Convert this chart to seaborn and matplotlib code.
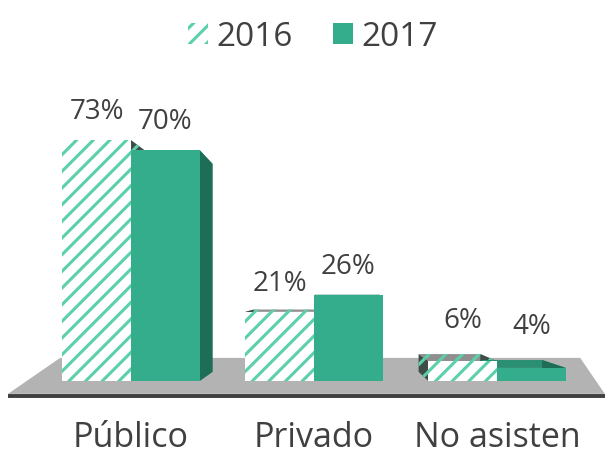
import pandas as pd
import seaborn as sns
import matplotlib
matplotlib.use("Agg")
import matplotlib.pyplot as plt
import matplotlib.patches as mpatches
from matplotlib.patches import Polygon

# data
categorias = ["Público", "Privado", "No asisten"]
anios = ["2016", "2017"]
valores_2016 = [73, 21, 6]
valores_2017 = [70, 26, 4]

verde = "#33ad8c"
raya = "#5ccfac"
gris_texto = "#404040"

df = pd.DataFrame({
    "sector": categorias * 2,
    "anio": [anios[0]] * 3 + [anios[1]] * 3,
    "pct": valores_2016 + valores_2017,
})

sns.set_style("white")
plt.rcParams["font.family"] = ["Open Sans", "DejaVu Sans"]
plt.rcParams["hatch.linewidth"] = 2.2

fig = plt.figure(figsize=(6.14, 4.56), dpi=100)
ax = fig.add_axes([0, 0, 1, 1])

sns.barplot(data=df, x="sector", y="pct", hue="anio", hue_order=anios,
            palette={"2016": "white", "2017": verde}, width=0.75, gap=0,
            saturation=1, legend=False, ax=ax, zorder=3)

ax.set_xlim(-0.716, 2.639)
ax.set_ylim(-22.4, 115.8)
ax.axis("off")

# floor
suelo = Polygon([(0.013, 0.134), (0.985, 0.134), (0.945, 0.213), (0.098, 0.213)],
                closed=True, transform=ax.transAxes, facecolor="#b3b3b3",
                edgecolor="none", zorder=1)
ax.add_patch(suelo)
ax.plot([0.013, 0.985], [0.129, 0.129], transform=ax.transAxes,
        color="#3f3f3f", lw=2.8, solid_capstyle="butt", zorder=1)

# fake 3d: back face pulled towards a vanishing point
vp = (1.087, 27.9)
k = 0.1


def atras(p):
    return (p[0] + k * (vp[0] - p[0]), p[1] + k * (vp[1] - p[1]))


def caras(bar, hatched):
    x0 = bar.get_x()
    x1 = x0 + bar.get_width()
    h = bar.get_height()
    top = [(x0, h), (x1, h), atras((x1, h)), atras((x0, h))]
    der = [(x1, 0), (x1, h), atras((x1, h)), atras((x1, 0))]
    izq = [(x0, 0), (x0, h), atras((x0, h)), atras((x0, 0))]
    if hatched:
        estilos = [(top, "#8f8f8f"), (der, "#3e4d48"), (izq, "#3e4d48")]
    else:
        estilos = [(top, "#2a8f73"), (der, "#1e6e57"), (izq, "#1e6e57")]
    for pts, col in estilos:
        if hatched:
            pg = Polygon(pts, closed=True, facecolor=col, edgecolor=raya,
                         hatch="//", lw=0, zorder=2)
        else:
            pg = Polygon(pts, closed=True, facecolor=col, edgecolor="none",
                         lw=0, zorder=2)
        ax.add_patch(pg)


for bar in ax.containers[0]:
    bar.set_edgecolor(raya)
    bar.set_hatch("//")
    bar.set_linewidth(0)
    caras(bar, True)

for bar in ax.containers[1]:
    bar.set_edgecolor("none")
    bar.set_linewidth(0)
    caras(bar, False)

# value labels
for cont in ax.containers:
    for bar in cont:
        cx = bar.get_x() + bar.get_width() / 2
        h = bar.get_height()
        dy = 21 if h > 10 else 30
        ax.annotate(f"{h:.0f}%", xy=(cx, h), xytext=(0, dy), textcoords="offset points",
                    ha="center", va="center", fontsize=20, color=gris_texto)

# category labels
for i, cat in enumerate(categorias):
    ax.text(i, -22.0, cat, ha="center", va="bottom", fontsize=24.5, color=gris_texto)

handles = [
    mpatches.Patch(facecolor="white", edgecolor=raya, hatch="//", lw=0, label=anios[0]),
    mpatches.Patch(facecolor=verde, edgecolor="none", label=anios[1]),
]
fig.legend(handles=handles, loc="upper center", bbox_to_anchor=(0.51, 1.02), ncol=2,
           frameon=False, fontsize=24, handlelength=0.6, handleheight=0.6,
           handletextpad=0.25, columnspacing=1.2, labelcolor=gris_texto)

fig.savefig("out.png", dpi=100)
